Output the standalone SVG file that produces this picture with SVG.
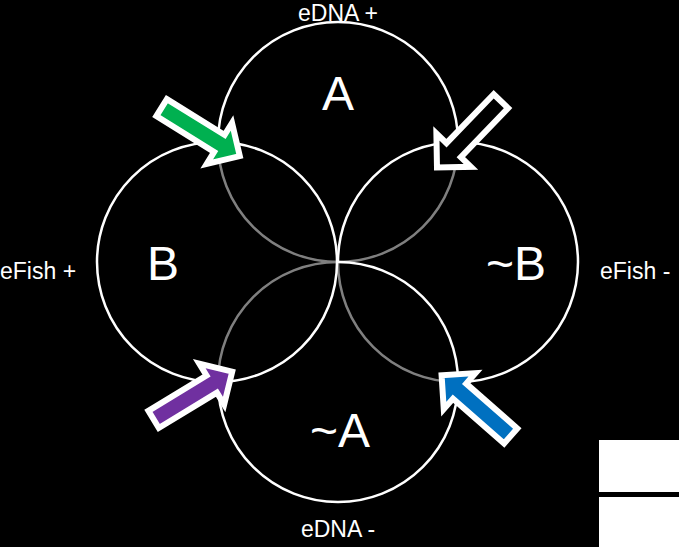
<svg xmlns="http://www.w3.org/2000/svg" width="679" height="547" viewBox="0 0 679 547">
<defs>
<style>
.c{fill:#000;fill-opacity:0.5;stroke:#fff;stroke-width:2.5}
.big{font-family:"Liberation Sans",Arial,sans-serif;font-size:48px;fill:#fff;text-anchor:middle}
.lbl{font-family:"Liberation Sans",Arial,sans-serif;font-size:23px;fill:#fff}
.arr{stroke:#fff;stroke-width:6;stroke-linejoin:miter;stroke-miterlimit:10}
</style>
<path id="ar" d="M0,-10 L68,-10 L68,-24 L92,0 L68,24 L68,10 L0,10 Z"/>
</defs>
<rect x="0" y="0" width="679" height="547" fill="#000"/>
<g id="circles">
<circle id="A" class="c" cx="338" cy="142" r="120"/>
<circle id="notB" class="c" cx="458" cy="262" r="120"/>
<circle id="notA" class="c" cx="338" cy="382" r="120"/>
<circle id="B" class="c" cx="217" cy="262" r="120"/>
</g>
<g id="labels">
<text class="big" x="338" y="110">A</text>
<text class="big" x="163" y="280">B</text>
<text class="big" x="516" y="280">~B</text>
<text class="big" x="340" y="447">~A</text>
<text class="lbl" x="338" y="21" text-anchor="middle">eDNA +</text>
<text class="lbl" x="338" y="537" text-anchor="middle">eDNA -</text>
<text class="lbl" x="0" y="279">eFish +</text>
<text class="lbl" x="600" y="279">eFish -</text>
</g>
<g id="connectors">
<use href="#ar" class="arr" fill="#00B050" transform="translate(161.6,107.6) rotate(31.8)"/>
<use href="#ar" class="arr" fill="#000000" transform="translate(500.9,101.2) rotate(134)"/>
<use href="#ar" class="arr" fill="#7030A0" transform="translate(153.6,419.4) rotate(-31.3)"/>
<use href="#ar" class="arr" fill="#0070C0" transform="translate(510.7,436) rotate(221.3)"/>
</g>
<g id="boxes">
<rect x="599" y="440" width="80" height="52" fill="#fff"/>
<rect x="599" y="497" width="80" height="50" fill="#fff"/>
</g>
</svg>
